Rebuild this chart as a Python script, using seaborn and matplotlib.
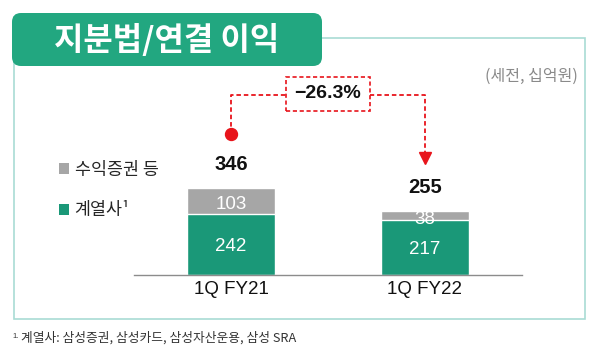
import matplotlib
matplotlib.use("Agg")
import matplotlib.pyplot as plt
import seaborn as sns
import numpy as np
import pandas as pd
from matplotlib.patches import FancyBboxPatch, Rectangle, Patch

# data (세전, 십억원)
periods = ["1Q FY21", "1Q FY22"]
affiliates = [242, 217]      # 계열사
securities = [103, 38]       # 수익증권 등
totals = [346, 255]

GREEN = "#1a9878"
GREY = "#a6a6a6"
TITLE_GREEN = "#22a780"
FRAME = "#a9dcd4"
RED = "#e8141b"
KR = ["Noto Sans CJK KR", "DejaVu Sans"]
NUM = ["Liberation Sans", "DejaVu Sans"]

sns.set_theme(style="white")
plt.rcParams["font.family"] = NUM

df = pd.DataFrame({"period": periods,
                   "affiliates": affiliates,
                   "stack": np.array(affiliates) + np.array(securities)})

W, H = 600, 361
fig = plt.figure(figsize=(W / 100, H / 100), dpi=100)

# decoration layer in pixel coordinates
deco = fig.add_axes([0, 0, 1, 1], zorder=0)
deco.set_xlim(0, W)
deco.set_ylim(H, 0)
deco.axis("off")
deco.add_patch(Rectangle((14, 38), 571, 281, fill=False, edgecolor=FRAME, lw=1.2))
deco.add_patch(FancyBboxPatch((12, 13), 310, 53, boxstyle="round,pad=0,rounding_size=9",
                              facecolor=TITLE_GREEN, edgecolor="none"))
deco.text(167, 41, "지분법/연결 이익", family=KR, fontsize=23, fontweight="bold",
          color="white", ha="center", va="center")
deco.text(578, 76, "(세전, 십억원)", family=KR, fontsize=11.5, color="#8a8a8a",
          ha="right", va="center")
deco.text(12, 336, "1.", fontsize=5.5, color="#333333", ha="left", va="center")
deco.text(21, 338, "계열사: 삼성증권, 삼성카드, 삼성자산운용, 삼성 SRA", family=KR,
          fontsize=9.2, color="#333333", ha="left", va="center")

# main chart axes
ax_l, ax_r, base = 134, 522, 275
scale = 0.2515  # px per unit
top = base - 700 * scale
ax = fig.add_axes([ax_l / W, (H - base) / H, (ax_r - ax_l) / W, (base - top) / H], zorder=1)
ax.patch.set_alpha(0)

bw = 88 / 194
sns.barplot(data=df, x="period", y="stack", color=GREY, width=bw, saturation=1, ax=ax)
sns.barplot(data=df, x="period", y="affiliates", color=GREEN, width=bw, saturation=1, ax=ax)
ax.set_xlim(-0.5, 1.5)
ax.set_ylim(0, 700)
ax.set_xlabel("")
ax.set_ylabel("")
ax.set_yticks([])
for s in ["left", "right", "top"]:
    ax.spines[s].set_visible(False)
ax.spines["bottom"].set_color("#8c8c8c")
ax.spines["bottom"].set_linewidth(1)
ax.tick_params(axis="x", length=0, pad=4.5, labelsize=13.5, labelcolor="#111111")

for i in range(len(periods)):
    ax.text(i, affiliates[i] / 2, str(affiliates[i]), color="white", fontsize=13.5,
            ha="center", va="center_baseline", zorder=10)
    ax.text(i, affiliates[i] + securities[i] / 2 - 6, str(securities[i]), color="white",
            fontsize=13.5, ha="center", va="center_baseline", zorder=10)
    ax.annotate(str(totals[i]), (i, totals[i]), xytext=(0, 17), textcoords="offset points",
                ha="center", va="center", fontsize=14.5, fontweight="bold", color="#111111")

# change bracket
pct = (totals[1] - totals[0]) / totals[0] * 100
y_br = 716
dot_y = totals[0] + 215
tip_y = totals[1] + 210
ax.plot([0, 0, 1, 1], [dot_y, y_br, y_br, tip_y], color=RED, lw=1.3,
        dashes=(2.5, 1.6), clip_on=False, zorder=3)
ax.plot([0], [dot_y], marker="o", ms=8.6, color=RED, clip_on=False, zorder=4)
ax.plot([1], [tip_y], marker="v", ms=8.6, color=RED, clip_on=False, zorder=4)
ax.text(0.5, y_br + 4, f"\u2212{abs(pct):.1f}%", fontsize=14, fontweight="bold",
        color="#111111", ha="center", va="center", zorder=5,
        bbox=dict(boxstyle="square,pad=0.42", facecolor="white", edgecolor=RED,
                  linestyle=(0, (2.5, 1.6)), lw=1.2))

# legend
handles = [Patch(facecolor=GREY, edgecolor="none"), Patch(facecolor=GREEN, edgecolor="none")]
leg = fig.legend(handles, ["수익증권 등", "계열사¹"], loc="center left",
                 bbox_to_anchor=(52 / W, 1 - 190 / H), frameon=False,
                 prop={"family": KR, "size": 12.5}, handlelength=0.6, handleheight=0.6,
                 handletextpad=0.3, labelspacing=1.3, borderaxespad=0)

fig.savefig("out.png", dpi=100, facecolor="white")
